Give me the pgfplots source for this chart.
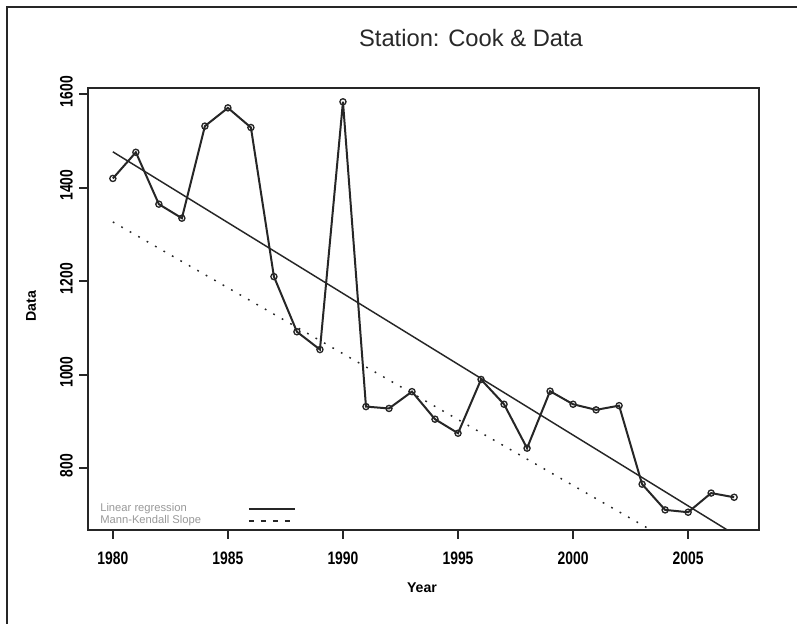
\documentclass[border=0pt]{standalone}
\usepackage{fontspec}
\setmainfont{Liberation Sans}
\usepackage{pgfplots}
\pgfplotsset{compat=1.18}
\usepackage{pgfplotstable}

\pgfplotstableread{
year value
1980 1420
1981 1476
1982 1365
1983 1335
1984 1532
1985 1571
1986 1529
1987 1210
1988 1092
1989 1054
1990 1584
1991 932
1992 928
1993 964
1994 905
1995 875
1996 990
1997 937
1998 843
1999 965
2000 937
2001 925
2002 934
2003 766
2004 711
2005 706
2006 747
2007 738
}\datatable

\pgfplotstableread{
year value
1980 1477
2007 659
}\regtable

\pgfplotstableread{
year value
1980 1327
2007 566
}\mktable

\newcommand{\tickfont}{\bfseries\fontsize{10.4}{12}\selectfont}

\begin{document}
\begin{tikzpicture}
\useasboundingbox (0,0) rectangle (597.75pt,468pt);
\fill[white] (0,0) rectangle (597.75pt,468pt);
\draw[line width=1.5pt, black!85] (5.25pt,0pt) -- (5.25pt,462.75pt) -- (597.75pt,462.75pt);
\begin{axis}[
  at={(66pt,70.5pt)}, anchor=south west,
  scale only axis,
  width=503.25pt, height=331.5pt,
  xmin=1978.92, xmax=2008.08,
  ymin=668, ymax=1613.5,
  axis line style={line width=1.5pt, black!85},
  xtick={1980,1985,...,2005},
  ytick={800,1000,...,1600},
  xtick pos=left, ytick pos=left,
  tick align=outside,
  major tick length=6.75pt,
  every tick/.style={line width=1.5pt, black!85},
  /pgf/number format/assume math mode=true,
  xticklabel={\scalebox{1}[1.3]{\tickfont\pgfmathprintnumber[1000 sep=]{\tick}}},
  yticklabel={\scalebox{1}[1.3]{\tickfont\pgfmathprintnumber[1000 sep=]{\tick}}},
  xticklabel style={anchor=center, yshift=-14.2pt},
  yticklabel style={rotate=90, anchor=center, xshift=2pt, yshift=9.4pt},
  title={Station: Cook \& Data},
  title style={at={(axis description cs:0.5708,1.0747)}, anchor=base,
    font=\fontsize{17.8}{20}\selectfont, text={rgb,255:red,40;green,40;blue,40}, inner sep=0pt},
  xlabel={Year},
  xlabel style={at={(axis description cs:0.4978,-0.1312)}, anchor=center,
    font=\bfseries\fontsize{10.6}{12}\selectfont},
  ylabel={Data},
  ylabel style={at={(axis description cs:-0.0849,0.5068)}, anchor=center,
    font=\bfseries\fontsize{10.6}{12}\selectfont},
  legend style={
    at={(axis description cs:0.0179,0.008)}, anchor=south west,
    draw=none, fill=none, inner sep=0pt,
    font=\fontsize{8.4}{9}\selectfont, text=black!40,
    nodes={inner sep=0pt, text height=6pt, text depth=1.7pt},
    row sep=1.3pt,
    /tikz/every odd column/.style={column sep=35pt},
    /tikz/every even column/.style={column sep=0pt},
  },
  legend cell align=left,
  legend plot pos=right,
  legend image code/.code={\draw[#1] (0pt,0pt) -- (35pt,0pt);},
]
\addplot[black!85, line width=1.5pt, mark=o, mark size=2.3pt,
  mark options={solid, line width=1pt}, forget plot] table[x=year, y=value] {\datatable};
\addplot[black!85, line width=1.1pt, forget plot] table[x=year, y=value] {\regtable};
\addplot[black!85, line width=1.1pt, dash pattern=on 1.3pt off 6pt, forget plot] table[x=year, y=value] {\mktable};
\addlegendimage{black!85, line width=1.5pt}
\addlegendentry{Linear regression}
\addlegendimage{black!85, line width=1.5pt, dash pattern=on 3.75pt off 5.25pt}
\addlegendentry{Mann-Kendall Slope}
\end{axis}
\end{tikzpicture}
\end{document}
